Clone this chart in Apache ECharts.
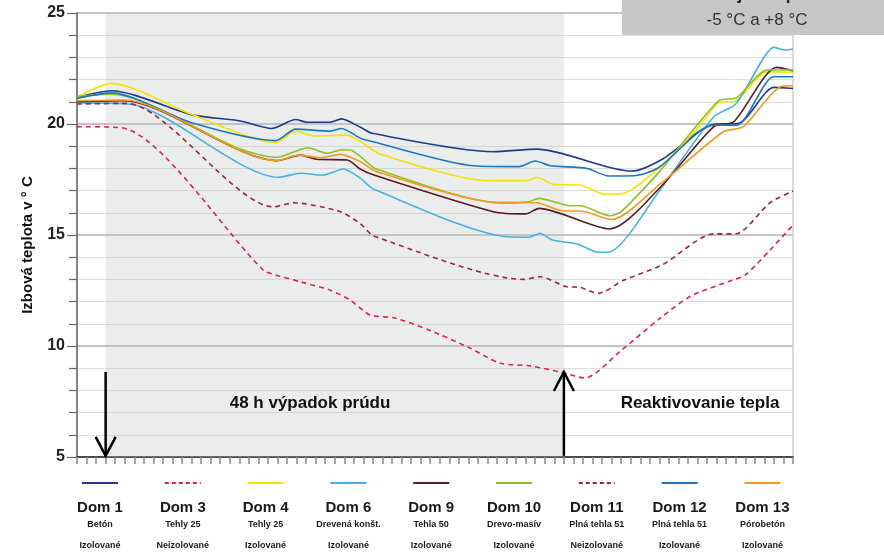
<!DOCTYPE html>
<html>
<head>
<meta charset="utf-8">
<script src="https://cdn.jsdelivr.net/npm/echarts@6/dist/echarts.min.js"></script>
<style>html,body{margin:0;padding:0;background:#fff}#c{width:884px;height:552px}</style>
</head>
<body>
<div id="c"></div>
<script>
// ---- data ----
const houses = ['Dom 1','Dom 3','Dom 4','Dom 6','Dom 9','Dom 10','Dom 11','Dom 12','Dom 13'];
const materials = ['Betón','Tehly 25','Tehly 25','Drevená konšt.','Tehla 50','Drevo-masív','Plná tehla 51','Plná tehla 51','Pórobetón'];
const insulation = ['Izolované','Neizolované','Izolované','Izolované','Izolované','Izolované','Neizolované','Izolované','Izolované'];
const outageStart = 3, outageEnd = 51;   // hours
const hourMax = 75;
const yTicks = [5,10,15,20,25];

const dom1 = [[0,21.2],[3.6,21.5],[12.2,20.4],[17,20.15],[20.4,19.8],[22.9,20.2],[24.1,20.08],[26.5,20.08],[27.7,20.23],[29.7,19.85],[30.9,19.58],[43.6,18.75],[48.2,18.87],[58.1,17.88],[61.3,18.41],[66.7,19.99],[69.3,20.03],[73,21.65],[75,21.6]];
const dom3 = [[0,19.88],[4.7,19.83],[19.5,13.42],[20.8,13.2],[23.5,12.88],[26.5,12.52],[28.6,12.07],[30.7,11.4],[33.3,11.26],[37,10.7],[41.2,9.9],[44.3,9.23],[47.5,9.1],[50.6,8.83],[53.2,8.56],[57,9.8],[61.1,11.26],[64.3,12.25],[68.4,12.93],[70,13.2],[72.6,14.32],[75,15.45]];
const dom4 = [[0,21.2],[3.6,21.83],[12.2,20.4],[20.8,19.16],[22.9,19.68],[24.8,19.46],[28.3,19.5],[29.7,19.2],[31.8,18.64],[43.1,17.45],[47.1,17.45],[48.2,17.6],[49.9,17.28],[52.7,17.25],[55.3,16.83],[57.3,16.88],[61.5,18.23],[65.3,19.95],[67.2,20.96],[69,21.04],[72.3,22.36],[75,22.33]];
const dom6 = [[0,20.95],[5.6,20.89],[21.1,17.6],[23.4,17.78],[25.8,17.7],[27.9,17.97],[29.7,17.55],[31.1,17.06],[45,14.92],[47.3,14.9],[48.5,15.08],[49.8,14.77],[52.5,14.58],[54.6,14.22],[55.9,14.25],[61.1,17.05],[66.7,20.33],[69,20.9],[72,23.03],[73,23.45],[74.2,23.33],[75,23.38]];
const dom9 = [[0,21.0],[4.9,21.05],[20.9,18.35],[23.4,18.6],[25.1,18.41],[28.3,18.38],[29.7,17.96],[31.1,17.7],[43.6,16.05],[47,15.95],[48.4,16.2],[55.8,15.27],[61.1,17.15],[66.7,19.88],[68.8,20.1],[73.3,22.55],[75,22.4]];
const dom10 = [[0,21.25],[3.6,21.34],[17.1,18.87],[20.9,18.5],[24.2,18.93],[26.2,18.68],[27.6,18.83],[28.6,18.83],[29.7,18.53],[31.4,17.96],[44.7,16.43],[47.3,16.5],[48.4,16.65],[51.7,16.32],[52.7,16.32],[55.8,15.87],[57,16.05],[59.4,17.1],[61.1,17.9],[67.2,21.04],[69.1,21.19],[72.3,22.43],[75,22.43]];
const dom11 = [[0,20.9],[5.2,20.93],[20.6,16.27],[22.7,16.45],[27.6,16.05],[29.7,15.5],[31.1,14.95],[46.8,13.0],[48.5,13.12],[51.3,12.67],[52.7,12.64],[54.6,12.37],[57.3,12.97],[61.3,13.65],[66.7,15.05],[69,15.05],[72.6,16.46],[75,16.98]];
const dom12 = [[0,21.15],[3.6,21.4],[12.2,20.03],[20.8,19.25],[22.9,19.77],[26.5,19.68],[27.7,19.8],[29.7,19.36],[30.9,19.21],[41.5,18.12],[46.3,18.08],[48,18.33],[49.6,18.12],[53.4,18.0],[55.7,17.66],[58.3,17.67],[60.9,18.03],[66.7,19.95],[69.1,19.95],[73,22.13],[75,22.13]];
const dom13 = [[0,21.05],[4.9,21.08],[20.9,18.35],[23.2,18.6],[25.5,18.48],[27.6,18.63],[29.7,18.3],[31.4,17.85],[43.1,16.5],[48.2,16.45],[51,16.08],[52.7,16.08],[56,15.7],[61.1,17.3],[67.7,19.65],[69.8,19.88],[73.7,21.68],[75,21.72]];
const seriesData = [dom1, dom3, dom4, dom6, dom9, dom10, dom11, dom12, dom13];
const arrows = [[outageStart, 8.83, 5.05], [outageEnd, 5.05, 8.83]];

// ---- styles ----
const colors = ['#1d3a8c','#e8213b','#f6e300','#45b2e5','#5b1a24','#8ec31f','#a3233a','#1b77c0','#f39a1f'];
const dashed = [false,true,false,false,false,false,true,false,false];
const FONT = '"Liberation Sans", Arial, sans-serif';

const chart = echarts.init(document.getElementById('c'), null, {renderer:'canvas'});

const series = houses.map((name, i) => ({
  name, type:'line', data: seriesData[i], showSymbol:false, smooth:0.25,
  lineStyle:{color:colors[i], width:1.6, type: dashed[i] ? [5,4] : 'solid'},
  itemStyle:{color:colors[i]}, z: 3,
  markArea: i === 0 ? {silent:true, itemStyle:{color:'rgba(190,195,193,0.3)'}, data:[[{xAxis:outageStart},{xAxis:outageEnd}]]} : undefined
}));

// draw order: put some on top
series.push({
  type:'custom', data: arrows, encode:{x:0, y:[1,2]}, z:5, silent:true,
  renderItem(params, api){
    const x = api.value(0);
    const p0 = api.coord([x, api.value(1)]);
    const p1 = api.coord([x, api.value(2)]);
    const dir = p1[1] > p0[1] ? 1 : -1;
    return {type:'group', children:[
      {type:'line', shape:{x1:p0[0], y1:p0[1], x2:p1[0], y2:p1[1]}, style:{stroke:'#000', lineWidth:2.5}},
      {type:'polyline', shape:{points:[[p1[0]-10, p1[1]-dir*19],[p1[0], p1[1]],[p1[0]+10, p1[1]-dir*19]]}, style:{stroke:'#000', lineWidth:2.5, fill:'none'}}
    ]};
  }
});

const graphics = [];
houses.forEach((h, i) => {
  const cx = 100 + i * 82.8;
  graphics.push({type:'line', shape:{x1:cx-18, y1:483, x2:cx+18, y2:483}, style:{stroke:colors[i], lineWidth:2, lineDash: dashed[i] ? [4,3] : null}});
  graphics.push({type:'text', x:cx, y:508, style:{text:h, font:'bold 15px ' + FONT, fill:'#1a1a1a', align:'center', verticalAlign:'middle'}});
  graphics.push({type:'text', x:cx, y:525, style:{text:materials[i], font:'bold 9px ' + FONT, fill:'#1a1a1a', align:'center', verticalAlign:'middle'}});
  graphics.push({type:'text', x:cx, y:546, style:{text:insulation[i], font:'bold 9px ' + FONT, fill:'#1a1a1a', align:'center', verticalAlign:'middle'}});
});
graphics.push({type:'text', x:310, y:403, style:{text:'48 h výpadok prúdu', font:'bold 17px ' + FONT, fill:'#111', align:'center', verticalAlign:'middle'}, z:10});
graphics.push({type:'text', x:700, y:403, style:{text:'Reaktivovanie tepla', font:'bold 17px ' + FONT, fill:'#111', align:'center', verticalAlign:'middle'}, z:10});
graphics.push({type:'text', x:28, y:245, rotation:Math.PI/2, style:{text:'Izbová teplota v ° C', font:'bold 15px ' + FONT, fill:'#111', align:'center', verticalAlign:'middle'}});
graphics.push({type:'rect', shape:{x:622, y:0, width:262, height:35}, style:{fill:'#c5c6c8'}, z:20});
graphics.push({type:'text', x:757, y:4, style:{text:'Vonkajšia teplota', font:'bold 17px ' + FONT, fill:'#222', align:'center', verticalAlign:'bottom'}, z:21});
graphics.push({type:'text', x:757, y:20, style:{text:'-5 °C a +8 °C', font:'17px ' + FONT, fill:'#333', align:'center', verticalAlign:'middle'}, z:21});

chart.setOption({
  animation:false,
  grid:{left:77, top:13, width:716, height:444, show:true, borderColor:'#cfcfcf', borderWidth:1.5, backgroundColor:'transparent'},
  xAxis:{type:'value', min:0, max:hourMax, interval:1,
    axisLine:{lineStyle:{color:'#222', width:1.5}},
    axisTick:{length:7, lineStyle:{color:'#888', width:1.5}},
    axisLabel:{show:false}, splitLine:{show:false}},
  yAxis:{type:'value', min:yTicks[0], max:yTicks[yTicks.length-1], interval:5,
    axisLine:{show:true, lineStyle:{color:'#666', width:1.5}},
    axisTick:{show:true, length:10, lineStyle:{color:'#666', width:1.2}},
    minorTick:{show:true, splitNumber:5, length:8, lineStyle:{color:'#666', width:1.2}},
    splitLine:{lineStyle:{color:'#c4c4c4', width:1.8}},
    minorSplitLine:{show:true, lineStyle:{color:'#dedede', width:1.2}},
    axisLabel:{fontWeight:'bold', fontSize:16, color:'#222', margin:12, fontFamily:FONT}},
  series,
  graphic: graphics
});
</script>
</body>
</html>
